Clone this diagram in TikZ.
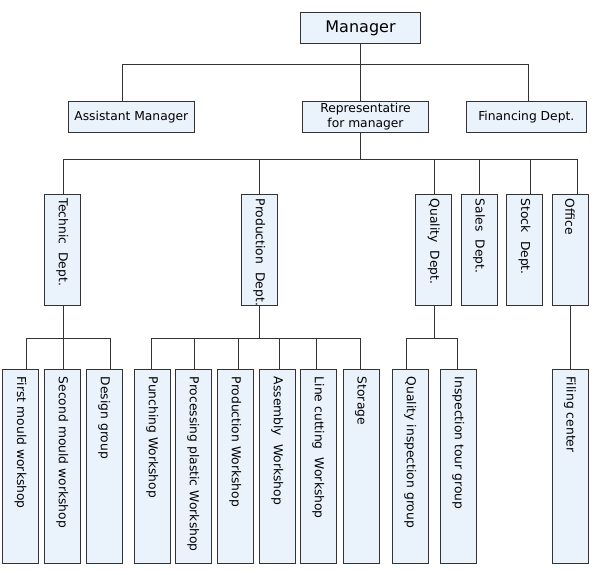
\documentclass[tikz,border=0pt]{standalone}
\usepackage{fontspec}
\setmainfont{DejaVu Sans}
\usepackage{tikz}

\definecolor{boxblue}{RGB}{234,242,252}
\definecolor{linegray}{RGB}{51,51,51}
\newcommand\unitfont{\fontsize{12.3}{15}\selectfont}
\newcommand\bossfont{\fontsize{16}{19}\selectfont}

\tikzset{
  unit/.style={draw=linegray,fill=boxblue,line width=0.8pt,font=\unitfont,inner sep=0pt},
  head/.style={unit,minimum width=#1,minimum height=31pt,align=center},
  dept/.style={unit,rotate=-90,minimum height=36pt,text width=106pt,inner xsep=2.25pt,
    align=left,execute at begin node={\noindent\hspace*{2pt}\hbox\bgroup},
    execute at end node=\egroup},
  group/.style={unit,rotate=-90,minimum height=36pt,text width=190pt,inner xsep=2pt,
    align=left,execute at begin node={\noindent\hspace*{5.5pt}\hbox\bgroup},
    execute at end node=\egroup},
  link/.style={draw=linegray,line width=0.8pt}
}

\begin{document}
\begin{tikzpicture}[x=1pt,y=-1pt]
    \useasboundingbox (0,0) rectangle (595,575);

    % top
    \node[head=120pt,font=\bossfont] (mgr) at (360.5,28) {Manager};
    \node[head=126pt] (asst) at (131.3,116.8) {Assistant Manager};
    \node[head=126.4pt] (rep) at (365.5,116.8) {Representatire\\for manager};
    \node[head=120pt] (fin) at (526.3,116.8) {Financing Dept.};

    % departments
    \node[dept] (tech) at (62.3,249.8) {Technic~ Dept.};
    \node[dept] (prod) at (259.3,249.8) {Production~ Dept.};
    \node[dept] (qual) at (433.7,249.8) {Quality~ Dept.};
    \node[dept] (sales) at (479,249.8) {Sales~ Dept.};
    \node[dept] (stock) at (524.5,249.8) {Stock~ Dept.};
    \node[dept] (office) at (570,249.8) {Office};

    % groups and workshops
    \node[group] (first) at (20.5,466.3) {First mould workshop};
    \node[group] (second) at (62.3,466.3) {Second mould workshop};
    \node[group] (design) at (104.3,466.3) {Design group};
    \node[group] (punch) at (152.3,466.3) {Punching Workshop};
    \node[group] (proc) at (193.3,466.3) {Processing plastic Workshop};
    \node[group] (prodw) at (235.3,466.3) {Production Workshop};
    \node[group] (assem) at (277.3,466.3) {Assembly~ Workshop};
    \node[group] (cut) at (318.3,466.3) {Line cutting~ Workshop};
    \node[group] (store) at (361,466.3) {Storage};
    \node[group] (qig) at (410.3,466.3) {Quality inspection group};
    \node[group] (itg) at (458.3,466.3) {Inspection tour group};
    \node[group] (filing) at (570,466.3) {Filing center};

    % lines level 1
    \draw[link] (mgr.south) -- (mgr.south |- rep.north);
    \draw[link] ([xshift=-8.6pt]asst.north) -- ++(0,-36) -| ([xshift=2pt]fin.north);

    % lines level 2
    \draw[link] (mgr.south |- rep.south) -- ++(0,27);
    \draw[link] ([xshift=1pt]tech.west) -- ++(0,-35.2) -| ([xshift=7.7pt]office.west);
    \foreach \d/\s in {prod/0.4,qual/0.6,sales/0.3,stock/5.8}
      \draw[link] ([xshift=\s pt]\d.west) -- ++(0,-35.2);

    % lines level 3
    \draw[link] ([xshift=1pt]tech.east) -- ([xshift=1pt]second.west);
    \draw[link] ([xshift=6.2pt]first.west) -- ++(0,-31) -| ([xshift=6pt]design.west);
    \draw[link] ([xshift=0.4pt]prod.east) -- ++(0,33.3);
    \draw[link] ([xshift=-0.6pt]punch.west) -- ++(0,-31) -| ([xshift=-1pt]store.west);
    \foreach \w/\s in {proc/0.7,prodw/3,assem/2,cut/-2}
      \draw[link] ([xshift=\s pt]\w.west) -- ++(0,-31);
    \draw[link] ([xshift=0.6pt]qual.east) -- ++(0,33.3);
    \draw[link] ([xshift=-3.6pt]qig.west) -- ++(0,-31) -| ([xshift=-1pt]itg.west);
    \draw[link] (office.east) -- (filing.west);
\end{tikzpicture}
\end{document}
